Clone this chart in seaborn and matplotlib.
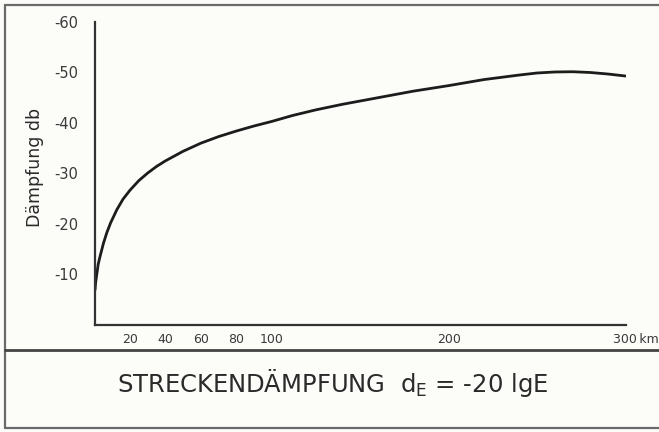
import matplotlib
matplotlib.use("Agg")
import matplotlib.pyplot as plt
import matplotlib.transforms as mtransforms
from matplotlib.lines import Line2D
import seaborn as sns
import pandas as pd

# values (distance in km, attenuation in dB)
distance_km = [0.2, 0.6, 1.2, 2, 3, 5, 6.8, 9, 12.5, 16, 20, 25, 30, 35, 40, 50, 60, 70,
               80, 90, 100, 112, 125, 140, 160, 180, 200, 220, 240, 250, 260, 270,
               280, 290, 300]
daempfung_db = [-6.9, -8.5, -10, -12, -13.5, -16.2, -18.2, -20.2, -22.8, -24.9, -26.7,
                -28.6, -30.1, -31.4, -32.5, -34.4, -36, -37.3, -38.4, -39.4, -40.3,
                -41.5, -42.6, -43.7, -45, -46.3, -47.4, -48.6, -49.5, -49.9, -50.1,
                -50.15, -50, -49.7, -49.3]

x_ticks = [20, 40, 60, 80, 100, 200, 300]
x_tick_labels = ["20", "40", "60", "80", "100", "200", "300\u2009km"]
y_ticks = [-10, -20, -30, -40, -50, -60]
y_tick_labels = ["-10", "-20", "-30", "-40", "-50", "-60"]

df = pd.DataFrame({"km": distance_km, "db": daempfung_db})

sns.set_theme(style="white")
plt.rcParams["font.family"] = ["DejaVu Sans"]
plt.rcParams["axes.unicode_minus"] = False

paper = "#fcfcf9"
ink = "#2a2a2a"
tick_ink = "#3a3a3a"

fig = plt.figure(figsize=(6.59, 4.32), dpi=100, facecolor=paper)
ax = fig.add_axes([0.1436, 0.2477, 0.8057, 0.7014])
ax.set_facecolor("none")

sns.lineplot(data=df, x="km", y="db", ax=ax, color="#1c1c1c", linewidth=2.0)

ax.set_xlim(0, 300)
ax.set_ylim(0, -60)
ax.set_xticks(x_ticks)
ax.set_xticklabels(x_tick_labels)
ax.set_yticks(y_ticks)
ax.set_yticklabels(y_tick_labels)
ax.set_xlabel("")
ax.set_ylabel("Dämpfung db", fontsize=12.5, color=ink)
ax.yaxis.set_label_coords(-0.095, 0.52)

for side in ["top", "right"]:
    ax.spines[side].set_visible(False)
for side in ["left", "bottom"]:
    ax.spines[side].set_color("#333333")
    ax.spines[side].set_linewidth(1.6)

ax.tick_params(axis="x", direction="in", length=5, width=1.4, pad=6,
               labelsize=9, color="#333333", labelcolor=tick_ink)
ax.tick_params(axis="y", direction="out", length=5, width=1.4, pad=7,
               labelsize=10.5, color="#333333", labelcolor=tick_ink)

# "300 km": keep 300 centred on its tick, km hangs to the right
last = ax.get_xticklabels()[-1]
last.set_horizontalalignment("left")
last.set_transform(last.get_transform() +
                   mtransforms.ScaledTranslation(-0.13, 0, fig.dpi_scale_trans))

# frame of the printed figure
frame_kw = dict(transform=fig.transFigure, color="#6a6a6a", linewidth=1.6)
fig.add_artist(Line2D([0.0076, 0.0076], [0.0104, 0.988], **frame_kw))
fig.add_artist(Line2D([0.0076, 1.0], [0.988, 0.988], **frame_kw))
fig.add_artist(Line2D([0.0076, 1.0], [0.0104, 0.0104], **frame_kw))
fig.add_artist(Line2D([0.0076, 1.0], [0.19, 0.19], transform=fig.transFigure,
                      color="#444444", linewidth=2.0))

fig.text(0.1775, 0.0926, r"STRECKENDÄMPFUNG  $\mathregular{d_E}$ = -20 lgE",
         fontsize=17.5, color=ink, va="baseline", ha="left")

fig.savefig("out.png", dpi=100, facecolor=fig.get_facecolor())
